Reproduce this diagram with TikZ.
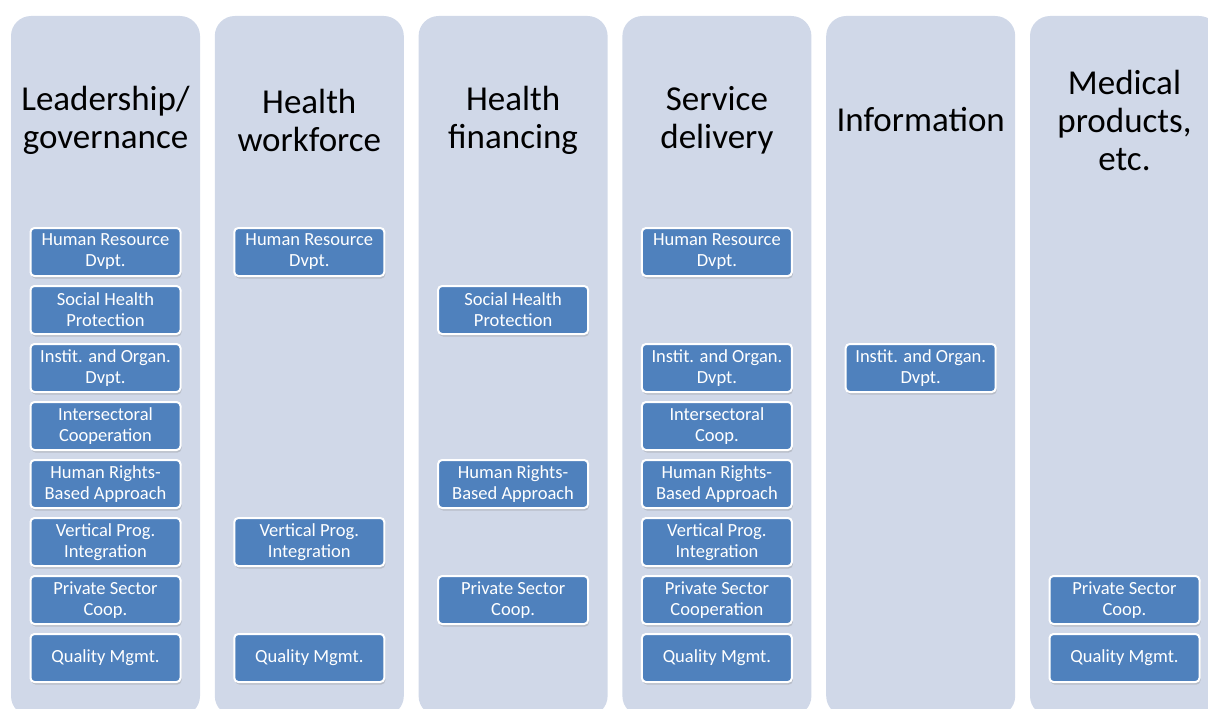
\documentclass[tikz,border=0pt]{standalone}
\usepackage{fontspec}
\setmainfont{Carlito}
\usetikzlibrary{shadows}
\definecolor{pillarbg}{HTML}{D0D8E8}
\definecolor{itemblue}{HTML}{4F81BD}

\begin{document}
\begin{tikzpicture}
[
    x=1pt, y=-1pt,
    pillar/.style={fill=pillarbg, rounded corners=20pt},
    head/.style={align=center, font=\fontsize{35}{38}\selectfont},
    item/.style={draw=white, line width=2pt, fill=itemblue, text=white,
        rounded corners=4pt, minimum width=150pt, minimum height=48pt,
        inner sep=1pt, align=center, font=\fontsize{18.5}{21}\selectfont,
        drop shadow={opacity=0.3, shadow xshift=1pt, shadow yshift=-2.5pt}},
]
\useasboundingbox (0,0) rectangle (1208,709);
\begin{scope}
\clip (0,0) rectangle (1208,709);
\foreach \x in {11, 214.8, 418.6, 622.4, 826.2, 1030}
    \fill[pillar] (\x,16) rectangle (\x+189,716);
\end{scope}

% pillar headings
\node[head] (lead) at (105.5,120) {Leadership/\\governance};
\node[head] (work) at (309.3,120) {Health\\workforce};
\node[head] (fin)  at (513.1,120) {Health\\financing};
\node[head] (serv) at (716.9,120) {Service\\delivery};
\node[head] (info) at (920.7,120) {Information};
\node[head] (med)  at (1124.5,120) {Medical\\products,\\etc.};

% leadership/governance
\node[item] (lead-hr)  at (105.5,252) {Human Resource\\Dvpt.};
\node[item] (lead-shp) at (105.5,310) {Social Health\\Protection};
\node[item] (lead-iod) at (105.5,368) {Instit. and Organ.\\Dvpt.};
\node[item] (lead-ic)  at (105.5,426) {Intersectoral\\Cooperation};
\node[item] (lead-hrb) at (105.5,484) {Human Rights-\\Based Approach};
\node[item] (lead-vpi) at (105.5,542) {Vertical Prog.\\Integration};
\node[item] (lead-psc) at (105.5,600) {Private Sector\\Coop.};
\node[item] (lead-qm)  at (105.5,658) {Quality Mgmt.};

% health workforce
\node[item] (work-hr)  at (309.3,252) {Human Resource\\Dvpt.};
\node[item] (work-vpi) at (309.3,542) {Vertical Prog.\\Integration};
\node[item] (work-qm)  at (309.3,658) {Quality Mgmt.};

% health financing
\node[item] (fin-shp) at (513.1,310) {Social Health\\Protection};
\node[item] (fin-hrb) at (513.1,484) {Human Rights-\\Based Approach};
\node[item] (fin-psc) at (513.1,600) {Private Sector\\Coop.};

% service delivery
\node[item] (serv-hr)  at (716.9,252) {Human Resource\\Dvpt.};
\node[item] (serv-iod) at (716.9,368) {Instit. and Organ.\\Dvpt.};
\node[item] (serv-ic)  at (716.9,426) {Intersectoral\\Coop.};
\node[item] (serv-hrb) at (716.9,484) {Human Rights-\\Based Approach};
\node[item] (serv-vpi) at (716.9,542) {Vertical Prog.\\Integration};
\node[item] (serv-psc) at (716.9,600) {Private Sector\\Cooperation};
\node[item] (serv-qm)  at (716.9,658) {Quality Mgmt.};

% information
\node[item] (info-iod) at (920.7,368) {Instit. and Organ.\\Dvpt.};

% medical products
\node[item] (med-psc) at (1124.5,600) {Private Sector\\Coop.};
\node[item] (med-qm)  at (1124.5,658) {Quality Mgmt.};
\end{tikzpicture}
\end{document}
